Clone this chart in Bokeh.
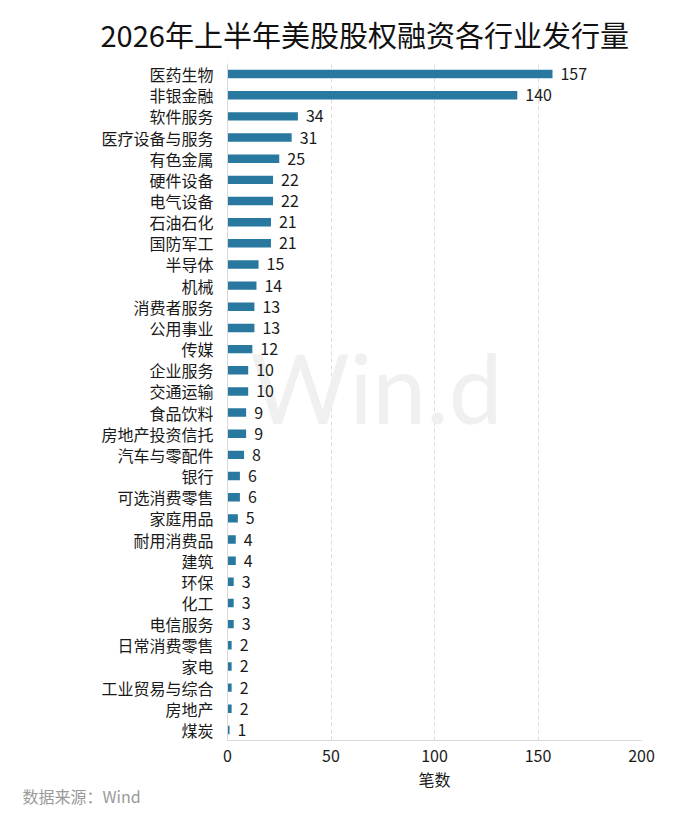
from bokeh.plotting import figure
from bokeh.models import FactorRange, Range1d, ColumnDataSource, Title, FixedTicker
from bokeh.core.properties import value
from bokeh.embed import file_html
from bokeh.resources import INLINE

categories = ["医药生物", "非银金融", "软件服务", "医疗设备与服务", "有色金属", "硬件设备",
              "电气设备", "石油石化", "国防军工", "半导体", "机械", "消费者服务", "公用事业",
              "传媒", "企业服务", "交通运输", "食品饮料", "房地产投资信托", "汽车与零配件",
              "银行", "可选消费零售", "家庭用品", "耐用消费品", "建筑", "环保", "化工",
              "电信服务", "日常消费零售", "家电", "工业贸易与综合", "房地产", "煤炭"]
counts = [157, 140, 34, 31, 25, 22, 22, 21, 21, 15, 14, 13, 13, 12, 10, 10, 9, 9, 8,
          6, 6, 5, 4, 4, 3, 3, 3, 2, 2, 2, 2, 1]
x_ticks = [0, 50, 100, 150, 200]

title_text = "2026年上半年美股股权融资各行业发行量"
x_label = "笔数"
source_text = "数据来源：Wind"
watermark_text = ["Win.d"]
watermark_x = [72]
watermark_y = ["交通运输"]

FONT = "Noto Sans CJK SC"

src = ColumnDataSource(dict(cat=categories, val=counts, lbl=[str(v) for v in counts]))
wm_src = ColumnDataSource(dict(x=watermark_x, y=watermark_y, t=watermark_text))

p = figure(width=684, height=815, output_backend="svg", toolbar_location=None,
           y_range=FactorRange(factors=list(reversed(categories))),
           x_range=Range1d(0, 200),
           min_border_left=227, min_border_right=43, min_border_top=63, min_border_bottom=75)

p.outline_line_color = None
p.background_fill_color = "white"

# faint watermark, drawn first so bars sit on top
p.text(x="x", y="y", text="t", source=wm_src, y_offset=-5, text_align="center",
       text_baseline="middle", text_font=value("Lato"), text_font_size="96px",
       text_color="#f0f0f0")

p.hbar(y="cat", right="val", left=0, height=0.4, source=src,
       fill_color="#2878a0", line_color=None)
p.text(x="val", y="cat", text="lbl", source=src, x_offset=8, text_baseline="middle",
       text_align="left", text_font=value(FONT), text_font_size="16px", text_color="#1a1a1a")

p.xgrid.ticker = FixedTicker(ticks=x_ticks)
p.xgrid.grid_line_color = "#dcdcdc"
p.xgrid.grid_line_dash = "4 3"
p.ygrid.grid_line_color = None

p.xaxis.ticker = FixedTicker(ticks=x_ticks)
p.xaxis.axis_line_color = "#d9d9d9"
p.xaxis.major_tick_line_color = None
p.xaxis.minor_tick_line_color = None
p.xaxis.major_tick_out = 0
p.xaxis.major_tick_in = 0
p.xaxis.major_label_standoff = 9
p.xaxis.major_label_text_font = FONT
p.xaxis.major_label_text_font_size = "16px"
p.xaxis.major_label_text_color = "#1a1a1a"
p.xaxis.axis_label = x_label
p.xaxis.axis_label_text_font = FONT
p.xaxis.axis_label_text_font_size = "16px"
p.xaxis.axis_label_text_font_style = "normal"
p.xaxis.axis_label_text_color = "#1a1a1a"
p.xaxis.axis_label_standoff = 2

p.yaxis.axis_line_color = "#d9d9d9"
p.yaxis.major_tick_line_color = None
p.yaxis.minor_tick_line_color = None
p.yaxis.major_tick_out = 0
p.yaxis.major_tick_in = 0
p.yaxis.major_label_standoff = 14
p.yaxis.major_label_text_font = FONT
p.yaxis.major_label_text_font_size = "16px"
p.yaxis.major_label_text_color = "#1a1a1a"

p.title.text = title_text
p.title.align = "left"
p.title.vertical_align = "middle"
p.title.offset = -127
p.title.standoff = 16
p.title.text_font = FONT
p.title.text_font_size = "29px"
p.title.text_font_style = "normal"
p.title.text_color = "#111111"

src_title = Title(text=source_text, align="left", offset=-205, standoff=-20,
                  vertical_align="top",
                  text_font=FONT, text_font_size="16px", text_font_style="normal",
                  text_color="#9a9a9a")
p.add_layout(src_title, "below")

open("out.html", "w").write(file_html(p, INLINE))
